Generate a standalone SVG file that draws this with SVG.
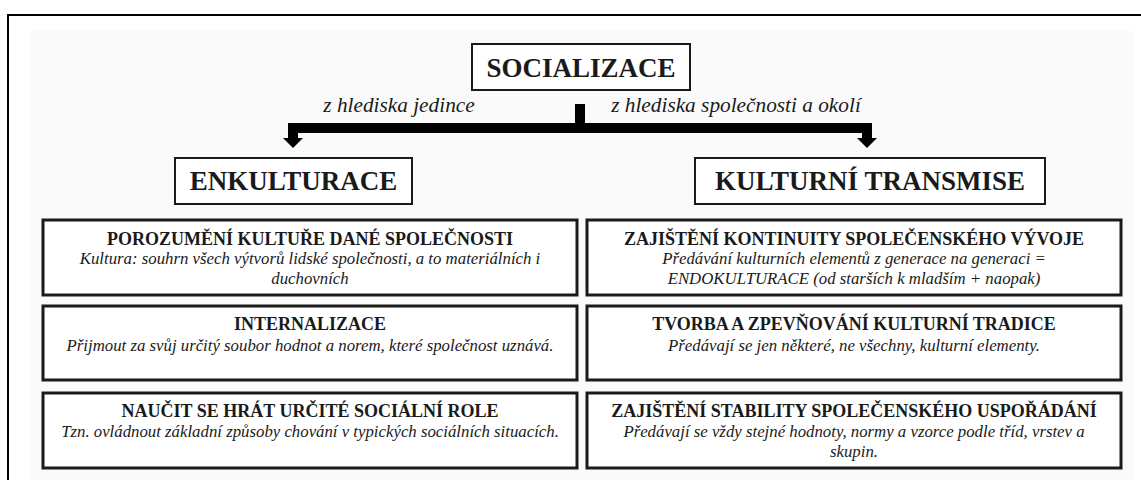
<svg xmlns="http://www.w3.org/2000/svg" width="1141" height="480" viewBox="0 0 1141 480">
<defs>
<style>
.t{font-family:"Liberation Serif","Times New Roman",serif;fill:#1a1a1a;text-anchor:middle}
.big{font-size:27px;font-weight:bold}
.lab{font-size:21.3px;font-style:italic}
.h{font-size:18px;font-weight:bold}
.i{font-size:16.8px;font-style:italic}
.tb{fill:#ffffff;stroke:#1a1a1a;stroke-width:2}
.cb{fill:#ffffff;stroke:#1a1a1a;stroke-width:3}
.con{fill:none;stroke:#000;stroke-width:10;stroke-linejoin:miter}
</style>
<marker id="ah" viewBox="0 0 10 20" refX="0" refY="10" markerWidth="10" markerHeight="20" markerUnits="userSpaceOnUse" orient="auto">
<path d="M0,0 L10,10 L0,20 Z" fill="#000"/>
</marker>
</defs>
<rect x="0" y="0" width="1141" height="480" fill="#ffffff"/>
<path d="M8,482 V15 H1143" fill="none" stroke="#000" stroke-width="2"/>
<rect x="30" y="31" width="1104" height="460" fill="#fafafa"/>

<g id="connectors">
<path class="con" d="M580,104 V128"/>
<path class="con" d="M580,128 H293 V138" marker-end="url(#ah)"/>
<path class="con" d="M580,128 H867 V138" marker-end="url(#ah)"/>
</g>

<g id="socializace">
<rect class="tb" x="472" y="44" width="218" height="46"/>
<text class="t big" x="581" y="77">SOCIALIZACE</text>
</g>
<g id="label-jedince">
<text class="t lab" x="399" y="112">z hlediska jedince</text>
</g>
<g id="label-spolecnost">
<text class="t lab" x="736" y="112">z hlediska společnosti a okolí</text>
</g>

<g id="enkulturace">
<rect class="tb" x="175" y="158" width="237" height="46"/>
<text class="t big" x="293.5" y="190">ENKULTURACE</text>
</g>
<g id="transmise">
<rect class="tb" x="695" y="158" width="350" height="46"/>
<text class="t big" x="870" y="190">KULTURNÍ TRANSMISE</text>
</g>

<g id="porozumeni">
<rect class="cb" x="43" y="220" width="534" height="75"/>
<text class="t h" x="310" y="245">POROZUMĚNÍ KULTUŘE DANÉ SPOLEČNOSTI</text>
<text class="t i" x="310" y="264">Kultura: souhrn všech výtvorů lidské společnosti, a to materiálních i</text>
<text class="t i" x="310" y="284">duchovních</text>
</g>
<g id="internalizace">
<rect class="cb" x="43" y="306" width="534" height="74"/>
<text class="t h" x="310" y="330">INTERNALIZACE</text>
<text class="t i" x="310" y="351">Přijmout za svůj určitý soubor hodnot a norem, které společnost uznává.</text>
</g>
<g id="role">
<rect class="cb" x="43" y="393" width="534" height="75"/>
<text class="t h" x="310" y="417">NAUČIT SE HRÁT URČITÉ SOCIÁLNÍ ROLE</text>
<text class="t i" x="310" y="437">Tzn. ovládnout základní způsoby chování v typických sociálních situacích.</text>
</g>

<g id="kontinuita">
<rect class="cb" x="587" y="220" width="534" height="75"/>
<text class="t h" x="854" y="245">ZAJIŠTĚNÍ KONTINUITY SPOLEČENSKÉHO VÝVOJE</text>
<text class="t i" x="854" y="264">Předávání kulturních elementů z generace na generaci =</text>
<text class="t i" x="854" y="284">ENDOKULTURACE (od starších k mladším + naopak)</text>
</g>
<g id="tradice">
<rect class="cb" x="587" y="306" width="534" height="74"/>
<text class="t h" x="854" y="330">TVORBA A ZPEVŇOVÁNÍ KULTURNÍ TRADICE</text>
<text class="t i" x="854" y="351">Předávají se jen některé, ne všechny, kulturní elementy.</text>
</g>
<g id="stabilita">
<rect class="cb" x="587" y="393" width="534" height="75"/>
<text class="t h" x="854" y="417">ZAJIŠTĚNÍ STABILITY SPOLEČENSKÉHO USPOŘÁDÁNÍ</text>
<text class="t i" x="854" y="437">Předávají se vždy stejné hodnoty, normy a vzorce podle tříd, vrstev a</text>
<text class="t i" x="854" y="457">skupin.</text>
</g>
</svg>
